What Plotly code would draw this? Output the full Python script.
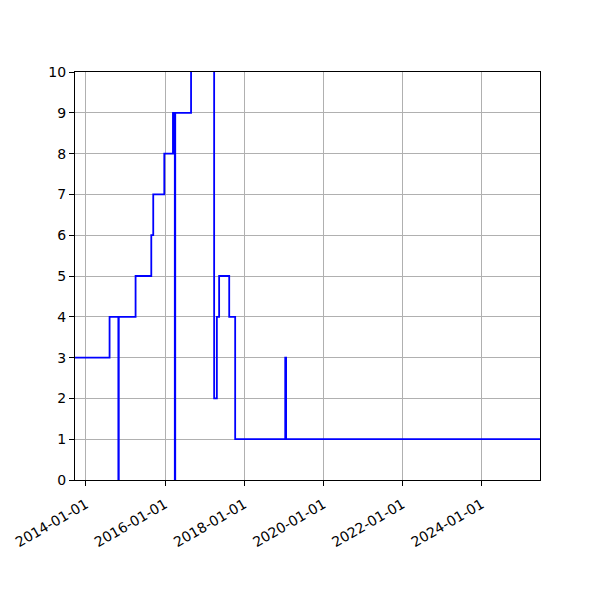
import plotly.graph_objects as go

# step series
dates = ["2013-09-22", "2014-08-07", "2014-10-27", "2014-10-31", "2015-04-04",
         "2015-08-27", "2015-09-14", "2015-12-25", "2016-03-14", "2016-03-18",
         "2016-03-22", "2016-03-31", "2016-04-04", "2016-08-28", "2017-03-29",
         "2017-04-23", "2017-05-14", "2017-08-15", "2017-10-09", "2019-01-14",
         "2019-01-22", "2025-06-22"]
values = [3, 4, 0, 4, 5, 6, 7, 8, 9, 8, 9, 0, 9, 12, 2, 4, 5, 4, 1, 3, 1, 1]

tick_dates = ["2014-01-01", "2016-01-01", "2018-01-01", "2020-01-01",
              "2022-01-01", "2024-01-01"]

fig = go.Figure()

fig.add_trace(
    go.Scatter(
        x=dates,
        y=values,
        mode="lines",
        line=dict(color="#0000ff", width=1.8, shape="hv"),
        showlegend=False
    ))

axis_style = dict(
    showline=True, linecolor="black", linewidth=1, mirror=True,
    ticks="outside", ticklen=5, tickcolor="black",
    showgrid=True, gridcolor="#b0b0b0", gridwidth=0.8,
    zeroline=False, automargin=False,
    tickfont=dict(family="DejaVu Sans", size=14, color="black")
)

fig.update_xaxes(
    range=["2013-09-22", "2025-06-22"],
    tickvals=tick_dates,
    ticktext=tick_dates,
    tickangle=-30,
    ticklabelstandoff=5,
    **axis_style
)
fig.update_yaxes(
    range=[0, 10],
    tickvals=list(range(0, 11)),
    **axis_style
)

# page body adds 8px, so margins are shifted to land on the same pixels
fig.update_layout(
    width=600, height=600,
    margin=dict(l=67, r=68, t=64, b=128),
    plot_bgcolor="white",
    paper_bgcolor="white",
    font=dict(family="DejaVu Sans")
)

fig.write_html("out.html")
